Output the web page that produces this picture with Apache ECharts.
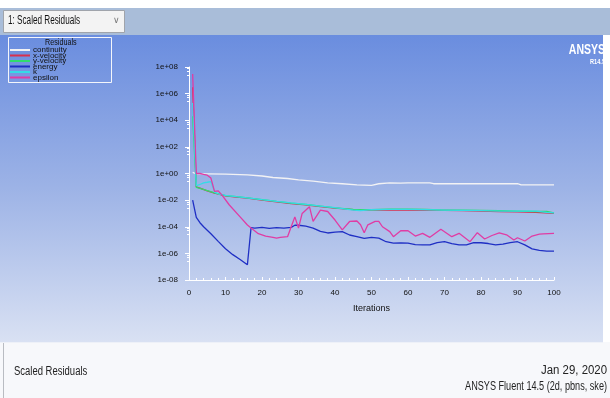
<!DOCTYPE html>
<html>
<head>
<meta charset="utf-8">
<script src="https://cdn.jsdelivr.net/npm/echarts@6/dist/echarts.min.js"></script>
<style>
html,body{margin:0;padding:0;background:#ffffff;}
#chart{width:610px;height:398px;}
</style>
</head>
<body>
<div id="chart"></div>
<script>
// ---- data ----
const seriesNames = ['continuity', 'x-velocity', 'y-velocity', 'energy', 'k', 'epsilon'];
const yTickLabels = ['1e-08', '1e-06', '1e-04', '1e-02', '1e+00', '1e+02', '1e+04', '1e+06', '1e+08'];
const xTickLabels = ['0', '10', '20', '30', '40', '50', '60', '70', '80', '90', '100'];

const continuityIter = [1, 2, 5, 10, 16, 20, 23, 27, 30, 34, 38, 42, 46, 50, 52, 55, 58, 60, 66, 67, 90, 91, 100];
const continuityRes = [1.2, 0.95, 0.93, 0.9, 0.8, 0.65, 0.5, 0.42, 0.33, 0.27, 0.2, 0.17, 0.14, 0.13, 0.17, 0.2, 0.19, 0.2, 0.2, 0.17, 0.17, 0.14, 0.14];

const xVelIter = [1, 2, 3, 5, 7, 10, 13, 16, 20, 24, 28, 32, 36, 40, 45, 50, 55, 60, 65, 70, 75, 80, 85, 90, 95, 100];
const xVelRes = [3e6, 0.1, 0.08, 0.05, 0.033, 0.021, 0.017, 0.014, 0.01, 0.0075, 0.0055, 0.0044, 0.0032, 0.0025, 0.0019, 0.0018, 0.0019, 0.0018, 0.0017, 0.0017, 0.0016, 0.0015, 0.0014, 0.0013, 0.0012, 0.001];

const yVelIter = [1, 2, 3, 5, 7, 10, 13, 16, 20, 24, 28, 32, 36, 40, 45, 50, 55, 60, 65, 70, 75, 80, 85, 90, 95, 98, 100];
const yVelRes = [2e4, 0.09, 0.075, 0.052, 0.035, 0.022, 0.018, 0.015, 0.011, 0.008, 0.006, 0.0047, 0.0035, 0.0026, 0.002, 0.0019, 0.0021, 0.0021, 0.002, 0.0018, 0.0018, 0.0017, 0.0016, 0.0015, 0.0014, 0.0014, 0.0011];

const energyIter = [1, 2, 3, 4, 6, 8, 10, 12, 14, 16, 17, 18, 20, 22, 24, 26, 28, 29, 30, 32, 34, 36, 38, 40, 42, 44, 46, 48, 50, 52, 54, 56, 58, 60, 62, 64, 66, 68, 70, 72, 74, 76, 78, 80, 82, 84, 86, 88, 90, 92, 94, 96, 98, 100];
const energyRes = [1e-2, 5e-4, 2e-4, 1e-4, 3e-5, 8e-6, 2.2e-6, 8e-7, 3.5e-7, 1.4e-7, 8.5e-5, 8e-5, 9e-5, 7.5e-5, 8.5e-5, 8e-5, 9e-5, 1.3e-4, 1.3e-4, 1.1e-4, 8e-5, 4.5e-5, 3.4e-5, 4e-5, 4.3e-5, 2.4e-5, 1.8e-5, 1.35e-5, 1.6e-5, 1.4e-5, 7.5e-6, 5.8e-6, 6e-6, 5.8e-6, 4.5e-6, 4.3e-6, 4.3e-6, 6.5e-6, 7.5e-6, 5.5e-6, 4.3e-6, 4.3e-6, 6.3e-6, 6.3e-6, 5.5e-6, 4.3e-6, 5e-6, 6.5e-6, 7.5e-6, 4.3e-6, 2.2e-6, 1.7e-6, 1.5e-6, 1.5e-6];

const kIter = [1, 2, 3, 4, 5, 6, 7, 8, 10, 13, 16, 20, 24, 28, 32, 36, 40, 45, 47, 50, 55, 60, 65, 70, 75, 80, 85, 90, 95, 98, 100];
const kRes = [2e5, 0.12, 0.15, 0.2, 0.22, 0.25, 0.04, 0.03, 0.023, 0.018, 0.015, 0.011, 0.0082, 0.0062, 0.0048, 0.0036, 0.0027, 0.0018, 0.0016, 0.0019, 0.002, 0.002, 0.0019, 0.0018, 0.0017, 0.0016, 0.0015, 0.0015, 0.0015, 0.0012, 0.0011];

const epsilonIter = [1, 2, 3, 4, 5, 6, 7, 8, 9, 11, 14, 16, 17, 19, 21, 23, 24, 25, 27, 28, 29, 30, 31, 33, 34, 36, 38, 40, 42, 44, 46, 47, 48, 49, 51, 52, 53, 55, 56, 58, 60, 62, 64, 66, 69, 72, 74, 77, 79, 81, 83, 85, 87, 89, 90, 92, 94, 96, 97, 100];
const epsilonRes = [3e7, 1.0, 1.0, 0.85, 0.75, 0.45, 0.045, 0.05, 0.025, 0.0045, 5.5e-4, 1.35e-4, 8e-5, 3e-5, 2e-5, 1.6e-5, 1.4e-5, 1.6e-5, 1.8e-5, 1e-4, 5.5e-4, 8e-5, 1e-3, 3.2e-3, 2.5e-4, 1.8e-3, 1.4e-3, 3.2e-4, 5.8e-5, 2.5e-4, 2.7e-4, 1.4e-4, 3.5e-5, 1.4e-4, 2.5e-4, 2.5e-4, 1e-4, 4.3e-5, 1.8e-5, 5.1e-5, 5e-5, 2e-5, 3.2e-5, 1.6e-5, 6.5e-5, 1.8e-5, 3.2e-5, 7.6e-6, 3.6e-5, 1.2e-5, 2.2e-5, 3.5e-5, 2.5e-5, 1e-5, 1.5e-5, 8.5e-6, 2e-5, 2.8e-5, 2.9e-5, 3.2e-5];

// ---- build chart ----
const seriesIters = [continuityIter, xVelIter, yVelIter, energyIter, kIter, epsilonIter];
const seriesVals = [continuityRes, xVelRes, yVelRes, energyRes, kRes, epsilonRes];
const colors = ['#f2f2f4', '#d8304e', '#2fdc6e', '#1f2fc4', '#35dbe6', '#e03ca4'];
const FONT = "'Liberation Sans','Roboto',sans-serif";

const chart = echarts.init(document.getElementById('chart'), null, {renderer: 'canvas'});

const series = seriesNames.map((name, i) => ({
  name: name,
  type: 'line',
  showSymbol: false,
  symbol: 'none',
  data: seriesIters[i].map((it, j) => [it, seriesVals[i][j]]),
  lineStyle: {width: 1.3, color: colors[i]},
  itemStyle: {color: colors[i]},
  z: 3,
  animation: false
}));

function txt(text, x, y, font, sx, align, fill) {
  return {type: 'text', z: 10, silent: true, x: x, y: y, scaleX: sx, scaleY: 1,
    style: {text: text, font: font, fill: fill || '#111111', align: align || 'left', verticalAlign: 'top'}};
}

const option = {
  animation: false,
  grid: {left: 189, right: 56, top: 67, bottom: 118},
  graphic: [
    {type: 'rect', z: -100, silent: true, shape: {x: 0, y: 0, width: 610, height: 398}, style: {fill: '#ffffff'}},
    {type: 'rect', z: -99, silent: true, shape: {x: 0, y: 8, width: 610, height: 27}, style: {fill: '#a9bdd9'}},
    {type: 'rect', z: -99, silent: true, shape: {x: 0, y: 35, width: 603, height: 307},
      style: {fill: new echarts.graphic.LinearGradient(0, 0, 0, 1, [
        {offset: 0, color: '#6a8ddf'},
        {offset: 0.5, color: '#9db3e6'},
        {offset: 1, color: '#d9e1f3'}
      ])}},
    {type: 'rect', z: -99, silent: true, shape: {x: 0, y: 342, width: 610, height: 56}, style: {fill: '#f7f8fb'}},
    {type: 'line', z: -98, silent: true, shape: {x1: 3.5, y1: 342, x2: 3.5, y2: 398}, style: {stroke: '#b9bcc2', lineWidth: 1}},
    {type: 'line', z: -98, silent: true, shape: {x1: 0, y1: 342.5, x2: 603, y2: 342.5}, style: {stroke: '#eef1f8', lineWidth: 1}},
    // dropdown
    {type: 'rect', z: -90, silent: true, shape: {x: 3.5, y: 10.5, width: 121, height: 22}, style: {fill: '#f3f3f3', stroke: '#a0a4ab', lineWidth: 1}},
    txt('1: Scaled Residuals', 8, 15, '12px ' + FONT, 0.68),
    txt('\u2228', 113, 16, "9px 'DejaVu Sans',sans-serif", 1, 'left', '#777777'),
    // legend box
    {type: 'rect', z: 1, silent: true, shape: {x: 8.5, y: 37.5, width: 103, height: 45}, style: {fill: 'rgba(0,0,0,0)', stroke: '#f4f6fb', lineWidth: 1}},
    txt('Residuals', 45, 38, '9px ' + FONT, 0.8),
    // ANSYS logo
    txt('ANSYS', 605, 42, 'bold 15px ' + FONT, 0.7, 'right', '#ffffff'),
    txt('R14.5', 605, 59, 'bold 7px ' + FONT, 0.8, 'right', '#ffffff'),
    // footer text
    txt('Scaled Residuals', 14, 366, '12px ' + FONT, 0.79, 'left', '#222222'),
    txt('Jan 29, 2020', 607, 365, '12px ' + FONT, 0.95, 'right', '#222222'),
    txt('ANSYS Fluent 14.5 (2d, pbns, ske)', 607, 381, '12px ' + FONT, 0.76, 'right', '#222222')
  ],
  legend: {
    data: seriesNames,
    orient: 'vertical',
    left: 10,
    top: 46,
    padding: 0,
    itemGap: -2.5,
    itemWidth: 20,
    itemHeight: 2,
    icon: 'rect',
    textStyle: {fontSize: 8, color: '#111111', fontFamily: FONT, padding: [0, 0, 0, -2]},
    selectedMode: false
  },
  xAxis: {
    type: 'value',
    min: 0, max: 100, interval: 10,
    name: 'Iterations',
    nameLocation: 'middle',
    nameGap: 24,
    nameTextStyle: {fontSize: 9, color: '#111111', fontFamily: FONT},
    axisLine: {show: true, lineStyle: {color: '#ffffff', width: 1}},
    axisTick: {show: true, length: 3, inside: true, lineStyle: {color: '#ffffff'}},
    minorTick: {show: true, splitNumber: 5, length: 2, lineStyle: {color: '#ffffff'}},
    splitLine: {show: false},
    axisLabel: {fontSize: 8, color: '#111111', fontFamily: FONT, margin: 9,
      formatter: (v) => xTickLabels[Math.round(v / 10)]}
  },
  yAxis: {
    type: 'log',
    logBase: 10,
    min: 1e-8, max: 1e8,
    interval: 2,
    axisLine: {show: true, lineStyle: {color: '#ffffff', width: 1}},
    axisTick: {show: true, length: 4, inside: false, lineStyle: {color: '#ffffff'}},
    minorTick: {show: true, splitNumber: 4, length: 2, lineStyle: {color: '#ffffff'}},
    splitLine: {show: false},
    axisLabel: {fontSize: 8, color: '#111111', fontFamily: FONT, margin: 11,
      formatter: (v) => {
        const e = Math.round(Math.log10(v));
        return yTickLabels[(e + 8) / 2] || '';
      }}
  },
  series: series
};

chart.setOption(option);
</script>
</body>
</html>
